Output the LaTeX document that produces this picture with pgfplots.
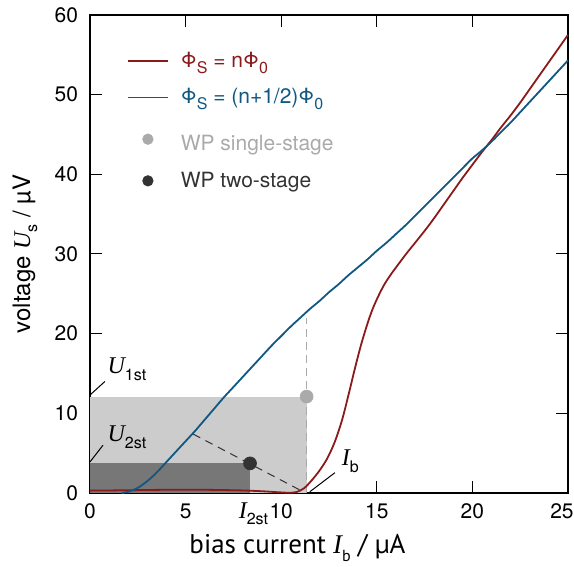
\documentclass[border=0pt]{standalone}
\usepackage{pgfplots}
\pgfplotsset{compat=1.18}
\usepackage{fontspec}
\setmainfont{TeX Gyre Heros}
\newfontfamily\tms{Liberation Serif}
\newfontfamily\hum{PT Sans}
\newcommand{\sub}[1]{\raisebox{-0.55ex}{\footnotesize #1}}
\newcommand{\sym}[2]{{\tms\itshape #1}\sub{#2}}
\definecolor{cred}{RGB}{139,26,26}
\definecolor{cblue}{RGB}{16,88,130}
\definecolor{lgray}{RGB}{204,204,204}
\definecolor{dgray}{RGB}{119,119,119}
\definecolor{mgray}{RGB}{170,170,170}
\definecolor{dmark}{RGB}{51,51,51}
\pgfplotsset{
  lineleg/.style={legend image code/.code={\draw[##1] (0pt,0pt) -- (20pt,0pt); \path (24pt,0pt);}},
  markleg/.style={legend image code/.code={\draw[mark repeat=2,mark phase=2,##1,mark size=2.6pt] plot coordinates {(0pt,0pt) (10pt,0pt) (20pt,0pt)}; \path (24pt,0pt);}},
}
\begin{document}
\begin{tikzpicture}
\begin{axis}[
  name=ax,
  scale only axis,
  width=239pt, height=239pt,
  xmin=0, xmax=25, ymin=0, ymax=60,
  xtick={0,5,10,15,20},
  extra x ticks={25},
  extra x tick style={xticklabel style={xshift=-3pt}},
  ytick={0,10,20,30,40,50,60},
  tick align=inside,
  major tick length=6pt,
  tick style={black, line width=0.5pt},
  axis line style={line width=0.9pt},
  /pgf/number format/assume math mode=true,
  tick label style={font=\fontsize{10.5}{12}\selectfont},
  xticklabel style={yshift=-2pt},
  yticklabel style={xshift=-2.5pt},
  xlabel={\hum bias current \sym{I}{b} / µA},
  ylabel={voltage \sym{U}{s} / µV},
  xlabel style={font=\fontsize{13.5}{15}\selectfont, at={(axis description cs:0.434,-0.115)}, anchor=center},
  ylabel style={font=\fontsize{12}{14}\selectfont, at={(axis description cs:-0.136,0.5)}, anchor=center},
  clip=false,
  legend style={draw=none, fill=none, at={(axis cs:1.6,56.4)}, anchor=north west,
    font=\fontsize{10.5}{12}\selectfont, row sep=5pt},
  legend cell align=left,
]
% shaded working regions
\addplot[fill=lgray, draw=none, forget plot] coordinates {(0,12.1) (11.33,12.1)} \closedcycle;
\addplot[fill=dgray, draw=none, forget plot] coordinates {(0,3.72) (8.37,3.72)} \closedcycle;
% guide lines
\addplot[mgray, line width=0.6pt, dash pattern=on 4pt off 2.5pt, forget plot] coordinates {(11.33,0) (11.33,22.0)};
\addplot[dmark, line width=0.5pt, dash pattern=on 4pt off 3pt, forget plot] coordinates {(5.39,7.4) (11.0,0.35)};
% curves
\addplot[cred, line width=0.9pt, smooth, tension=0.5, lineleg] coordinates {
(0,0.30) (1,0.32) (2,0.35) (3,0.38) (4,0.40) (5,0.40) (6,0.40) (7,0.37) (8,0.32) (9,0.22)
(9.8,0.10) (10.4,0.03) (10.8,0.12) (11.2,0.6) (11.6,1.6) (12.0,2.8) (12.4,4.3) (12.8,6.4)
(13.2,9.3) (13.6,13.1) (13.8,15.1) (14.0,17.0) (14.2,18.8) (14.4,20.4) (14.6,21.9)
(14.8,23.2) (15.0,24.3) (15.2,25.3) (15.4,26.2) (15.6,26.95) (15.8,27.65) (16.0,28.3)
(16.5,29.9) (17.0,31.4) (17.5,32.9) (18.0,34.5) (18.5,36.2) (19.0,37.9)
(19.5,39.6) (20.0,41.2) (20.5,42.8) (21.0,44.3) (21.5,45.9) (22.0,47.4) (22.5,49.0)
(23.0,50.7) (23.5,52.4) (24.0,54.1) (24.5,55.8) (25.0,57.5)};
\addlegendentry{\textcolor{cred}{Φ\sub{S} = nΦ\sub{0}}}
\addplot[cblue, line width=0.9pt, smooth, tension=0.5, lineleg] coordinates {
(1.65,0) (2.0,0.15) (2.5,0.65) (3.0,1.5) (3.5,2.6) (4.0,3.9) (4.5,5.2) (5.0,6.5) (5.5,7.8)
(6.0,9.2) (6.5,10.6) (7.0,12.0) (7.5,13.3) (8.0,14.6) (8.5,15.9) (9.0,17.2) (9.5,18.5)
(10.0,19.7) (10.5,20.9) (11.0,22.0) (11.5,23.1) (12.0,24.1) (12.5,25.2) (13.0,26.2)
(13.5,27.3) (14.0,28.3) (14.5,29.3) (15.0,30.4) (15.5,31.4) (16.0,32.5) (16.5,33.6)
(17.0,34.8) (17.5,36.0) (18.0,37.2) (18.5,38.4) (19.0,39.6) (19.5,40.8) (20.0,42.0)
(20.5,43.0) (21.0,44.1) (21.5,45.3) (22.0,46.5) (22.5,47.8) (23.0,49.1) (23.5,50.4)
(24.0,51.7) (24.5,53.0) (25.0,54.3)};
\addlegendentry{\textcolor{cblue}{Φ\sub{S} = (n+1/2)Φ\sub{0}}}
% working points
\addplot[only marks, mark=*, mark size=3.2pt, mgray, markleg] coordinates {(11.33,12.1)};
\addlegendentry{\rule{0pt}{13pt}\textcolor{mgray}{WP single-stage}}
\addplot[only marks, mark=*, mark size=3.2pt, dmark, markleg] coordinates {(8.37,3.72)};
\addlegendentry{\textcolor{dmark}{WP two-stage}}
% annotations
\draw[black, line width=0.5pt] (axis cs:0,12.3) -- (axis cs:0.78,14.0);
\node[anchor=south west, inner sep=0.5pt, font=\fontsize{12}{14}\selectfont] at (axis cs:0.85,13.9) {\sym{U}{1st}};
\draw[black, line width=0.5pt] (axis cs:0,3.9) -- (axis cs:0.68,6.0);
\node[anchor=south west, inner sep=0.5pt, font=\fontsize{12}{14}\selectfont] at (axis cs:0.85,5.4) {\sym{U}{2st}};
\draw[black, line width=0.5pt] (axis cs:11.5,0.16) -- (axis cs:12.81,2.55);
\node[anchor=south west, inner sep=0.5pt, font=\fontsize{12}{14}\selectfont] at (axis cs:13.1,2.4) {\sym{I}{b}};
\node[anchor=north, inner sep=0.5pt, font=\fontsize{12}{14}\selectfont] at (axis cs:8.55,-1.0) {\sym{I}{2st}};
\end{axis}
\pgfresetboundingbox
\path[use as bounding box] ([xshift=-45pt,yshift=-37pt]ax.south west) rectangle ([xshift=3pt,yshift=7.5pt]ax.north east);
\end{tikzpicture}
\end{document}
